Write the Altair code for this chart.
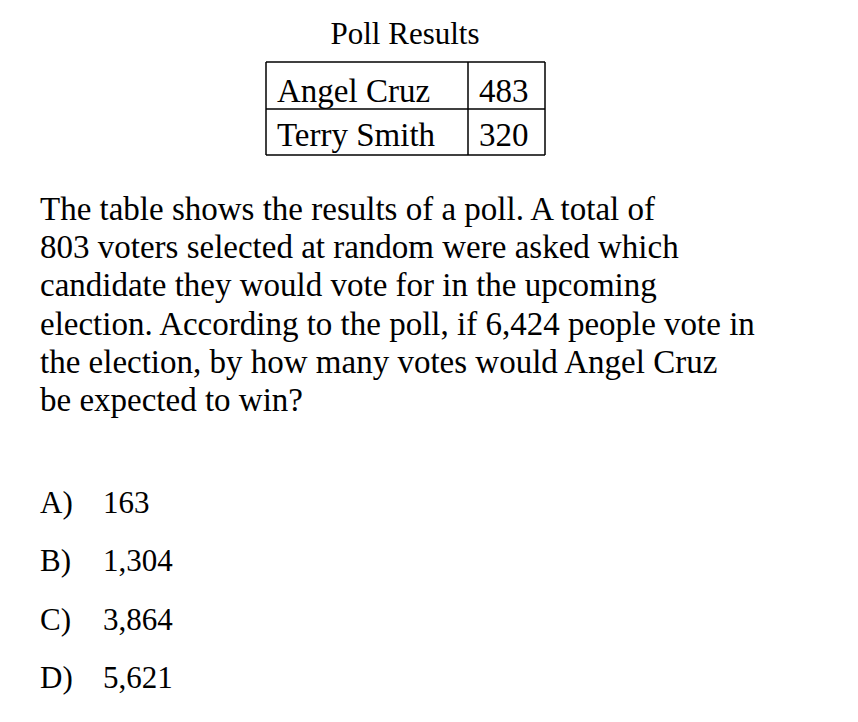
import altair as alt
import pandas as pd

title = "Poll Results"
candidates = ["Angel Cruz", "Terry Smith"]
votes = [483, 320]
question = [
    "The table shows the results of a poll. A total of",
    "803 voters selected at random were asked which",
    "candidate they would vote for in the upcoming",
    "election. According to the poll, if 6,424 people vote in",
    "the election, by how many votes would Angel Cruz",
    "be expected to win?",
]
letters = ["A)", "B)", "C)", "D)"]
answers = ["163", "1,304", "3,864", "5,621"]

O = 8  # page margin
FONT = "Liberation Serif"
rows = []
rows.append(dict(t=title, x=405 - O, y=44 - O, a="center", s=31))
for i, (c, v) in enumerate(zip(candidates, votes)):
    yb = 102 + i * 44 - O
    rows.append(dict(t=c, x=277 - O, y=yb, a="left", s=33))
    rows.append(dict(t=str(v), x=479 - O, y=yb, a="left", s=33))
for i, line in enumerate(question):
    rows.append(dict(t=line, x=40 - O, y=220 + i * 38.2 - O, a="left", s=33))
for i, (l, a) in enumerate(zip(letters, answers)):
    yb = 513 + i * 58.3 - O
    rows.append(dict(t=l, x=40 - O, y=yb, a="left", s=31))
    rows.append(dict(t=a, x=103 - O, y=yb, a="left", s=31))
df = pd.DataFrame(rows)

def txt(d, align):
    return alt.Chart(d).mark_text(font=FONT, align=align, baseline="alphabetic", color="black").encode(
        x=alt.X("x:Q", scale=None), y=alt.Y("y:Q", scale=None), text="t:N",
        size=alt.Size("s:Q", scale=None, legend=None))

L, R, M, T, B = 266 - O, 545 - O, 468 - O, 62 - O, 155 - O
mid = 109 - O
lines = pd.DataFrame([
    dict(x=L, x2=R, y=T, y2=T), dict(x=L, x2=R, y=B, y2=B), dict(x=L, x2=R, y=mid, y2=mid),
    dict(x=L, x2=L, y=T, y2=B), dict(x=R, x2=R, y=T, y2=B), dict(x=M, x2=M, y=T, y2=B),
])
rules = alt.Chart(lines).mark_rule(color="black", strokeWidth=1.5).encode(
    x=alt.X("x:Q", scale=None), x2="x2", y=alt.Y("y:Q", scale=None), y2="y2")

chart = alt.layer(
    rules,
    txt(df[df.a == "center"], "center"),
    txt(df[df.a == "left"], "left"),
).properties(width=842, height=706, autosize="none", padding=0).configure_view(stroke=None)

chart.save("out.html", embed_options={"renderer": "svg", "actions": False})
